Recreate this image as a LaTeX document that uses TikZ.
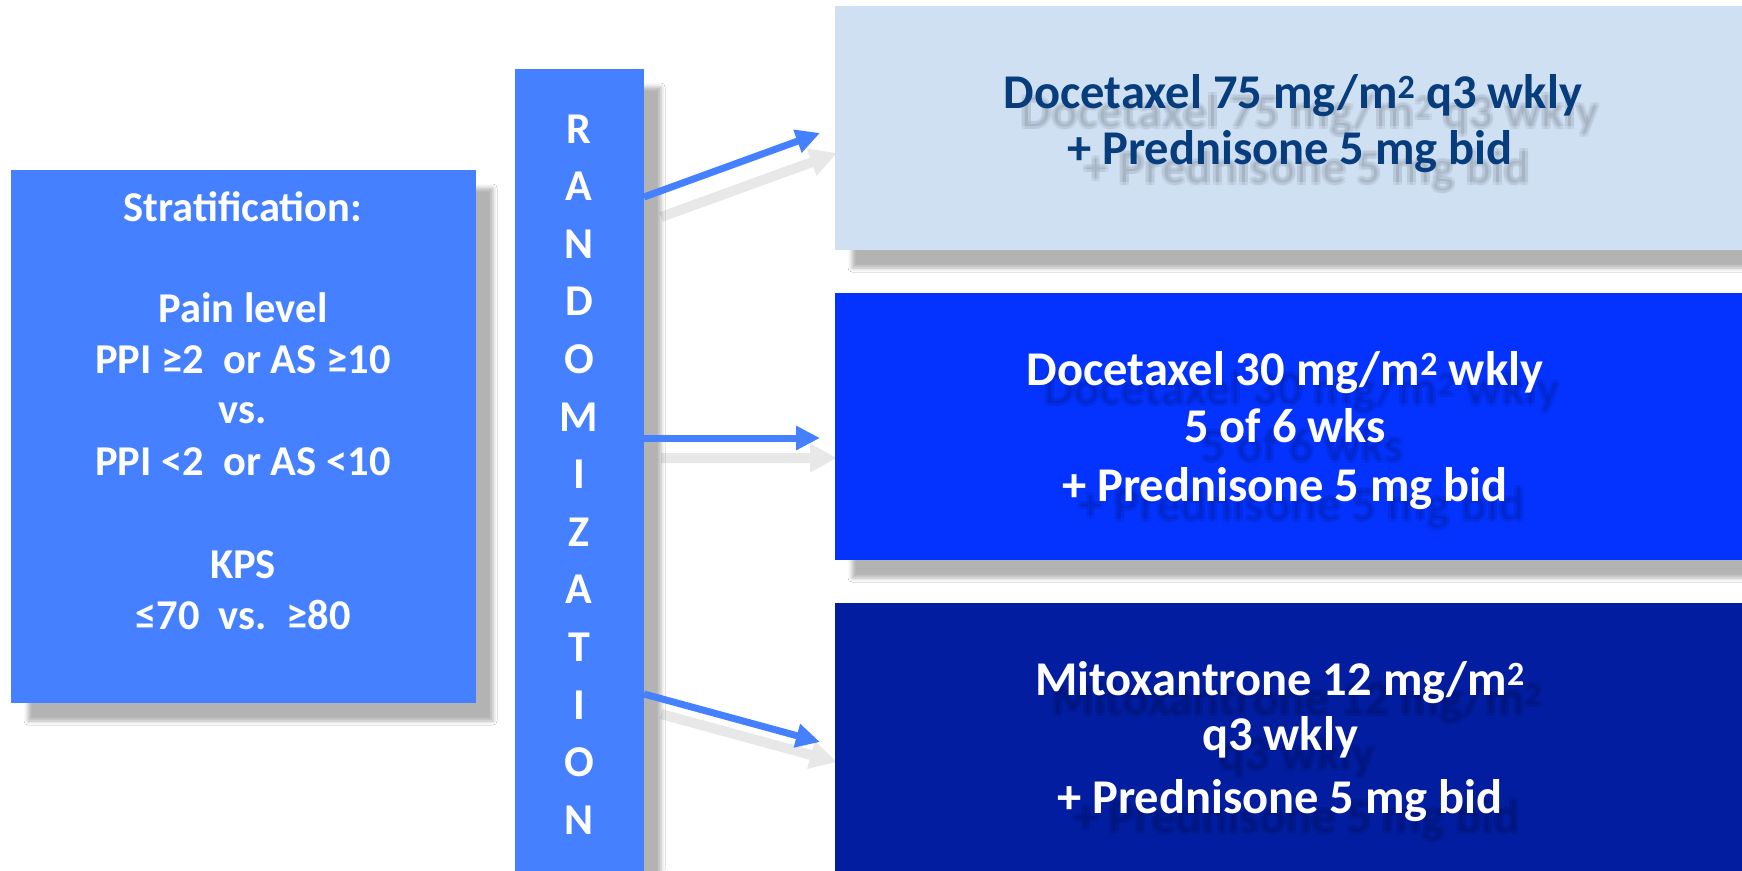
\documentclass[tikz,border=0pt]{standalone}
\usepackage{fontspec}
\setmainfont{Carlito}
\usetikzlibrary{arrows.meta,shadows.blur}
\definecolor{midblue}{HTML}{4480FF}
\definecolor{paleblue}{HTML}{CFE0F3}
\definecolor{navytxt}{HTML}{073C7D}
\definecolor{royal}{HTML}{0433FF}
\definecolor{deepblue}{HTML}{021D9F}
\tikzset{
  boxshadow/.style={blur shadow={shadow xshift=17pt, shadow yshift=-18pt, shadow blur radius=4pt, shadow opacity=30}},
  box/.style={draw=none, inner sep=0pt, outer sep=0pt, anchor=north west},
  lefttxt/.style={anchor=base, text=white, inner sep=0pt, font=\bfseries\fontsize{42.5}{51}\selectfont},
  bartxt/.style={anchor=base, text=white, inner sep=0pt, font=\bfseries\fontsize{44}{53}\selectfont},
  armtxt/.style={anchor=base, inner sep=0pt, font=\bfseries\fontsize{48.5}{58}\selectfont},
  arr/.style={draw=midblue, line width=7pt, -{Triangle[length=24pt,width=23pt]}},
  arrsh/.style={draw=black, line width=10pt, -{Triangle[length=27pt,width=27pt]}},
}
\newcommand\sqm{m\textsuperscript{2}}
\newcommand\txtshadow[3]{%
  \foreach \dx in {-1.5,1.5}{\foreach \dy in {-1.5,1.5}{%
    \node[armtxt, text=black, opacity=0.05] at (#1+17+\dx, #2+20+\dy) {#3};}}}
\begin{document}
\begin{tikzpicture}[x=1pt, y=-1pt]
\useasboundingbox (0,0) rectangle (1742,870);
\fill[white] (0,0) rectangle (1742,870);

% connector end points
\coordinate (s1) at (644,197);
\coordinate (e1) at (820,133);
\coordinate (s2) at (644,438);
\coordinate (e2) at (820,438);
\coordinate (s3) at (644,694);
\coordinate (e3) at (820,742);

% arrow shadows
\begin{scope}[transparency group, opacity=0.09]
\draw[arrsh] ([shift={(17,20)}]s1) -- ([shift={(17,20)}]e1);
\draw[arrsh] ([shift={(17,20)}]s2) -- ([shift={(17,20)}]e2);
\draw[arrsh] ([shift={(17,20)}]s3) -- ([shift={(17,20)}]e3);
\end{scope}

% boxes
\node[box, boxshadow, fill=midblue, minimum width=465pt, minimum height=533pt] (strat) at (11,170) {};
\node[box, boxshadow, fill=midblue, minimum width=129pt, minimum height=840pt] (bar) at (515,69) {};
\node[box, boxshadow, fill=paleblue, minimum width=950pt, minimum height=244pt] (arm1) at (835,6) {};
\node[box, boxshadow, fill=royal, minimum width=950pt, minimum height=267pt] (arm2) at (835,293) {};
\node[box, boxshadow, fill=deepblue, minimum width=950pt, minimum height=300pt] (arm3) at (835,603) {};

% arrows
\draw[arr] (s1) -- (e1);
\draw[arr] (s2) -- (e2);
\draw[arr] (s3) -- (e3);

% stratification text
\node[lefttxt] (t1) at (243,221) {Stratification:};
\node[lefttxt] (t2) at (243,322) {Pain level};
\node[lefttxt] (t3) at (243,373) {PPI ≥2\ \ or AS ≥10};
\node[lefttxt] (t4) at (243,423) {vs.};
\node[lefttxt] (t5) at (243,475) {PPI <2\ \ or AS <10};
\node[lefttxt] (t6) at (243,578) {KPS};
\node[lefttxt] (t7) at (243,629) {≤70\ \ vs.\ \ ≥80};

% randomization letters
\foreach \l [count=\i from 0] in {R,A,N,D,O,M,I,Z,A,T,I,O,N}
  \node[bartxt] (r\i) at (579,143+57.6*\i) {\l};

% arm texts with soft shadows
\txtshadow{1293}{108}{Docetaxel 75 mg/\sqm{} q3 wkly}
\txtshadow{1290}{164}{+ Prednisone 5 mg bid}
\node[armtxt, text=navytxt] (a1a) at (1293,108) {Docetaxel 75 mg/\sqm{} q3 wkly};
\node[armtxt, text=navytxt] (a1b) at (1290,164) {+ Prednisone 5 mg bid};

\txtshadow{1285}{385}{Docetaxel 30 mg/\sqm{} wkly}
\txtshadow{1285}{442}{5 of 6 wks}
\txtshadow{1285}{501}{+ Prednisone 5 mg bid}
\node[armtxt, text=white] (a2a) at (1285,385) {Docetaxel 30 mg/\sqm{} wkly};
\node[armtxt, text=white] (a2b) at (1285,442) {5 of 6 wks};
\node[armtxt, text=white] (a2c) at (1285,501) {+ Prednisone 5 mg bid};

\txtshadow{1280}{695}{Mitoxantrone 12 mg/\sqm}
\txtshadow{1280}{750}{q3 wkly}
\txtshadow{1280}{813}{+ Prednisone 5 mg bid}
\node[armtxt, text=white] (a3a) at (1280,695) {Mitoxantrone 12 mg/\sqm};
\node[armtxt, text=white] (a3b) at (1280,750) {q3 wkly};
\node[armtxt, text=white] (a3c) at (1280,813) {+ Prednisone 5 mg bid};
\end{tikzpicture}
\end{document}
